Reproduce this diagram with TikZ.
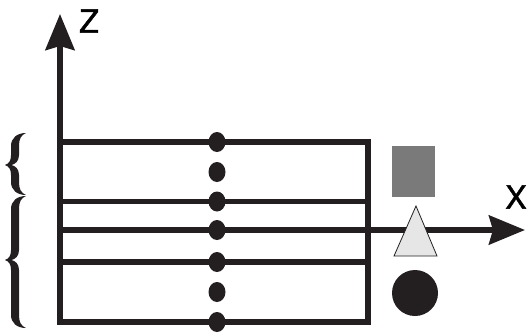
\documentclass[tikz,border=0pt]{standalone}
\usepackage{fontspec}
\setmainfont{TeX Gyre Heros}
\newfontfamily\labfont[FakeBold=1.2]{TeX Gyre Heros}
\usetikzlibrary{arrows.meta}
\definecolor{ink}{HTML}{231F20}
\definecolor{sqgray}{HTML}{7A7A7A}
\definecolor{trigray}{HTML}{E6E6E6}
% filled curly brace: #1 top y, #2 tip y, #3 bottom y
\newcommand\bracefill[3]{%
  \fill[ink] (26,#1-1) .. controls (17,#1-1) and (11,#1+4) .. (11,#1+12)
    -- (11,#2-10) .. controls (11,#2-4) and (9,#2-1.5) .. (5,#2)
    .. controls (9,#2+1.5) and (11,#2+4) .. (11,#2+10)
    -- (11,#3-12) .. controls (11,#3-4) and (17,#3+1) .. (26,#3+1)
    .. controls (21,#3-1) and (19,#3-5) .. (19,#3-12)
    -- (19,#2+10) .. controls (19,#2+4) and (15.5,#2+1) .. (11.5,#2)
    .. controls (15.5,#2-1) and (19,#2-4) .. (19,#2-10)
    -- (19,#1+12) .. controls (19,#1+5) and (21,#1+1) .. (26,#1-1) -- cycle;}
\begin{document}
\begin{tikzpicture}[x=1pt,y=-1pt,line width=5.5pt,
  layer/.style={draw=ink,line width=5.5pt},
  axis/.style={draw=ink,line width=5.5pt,-{Triangle[length=36pt,width=29pt,inset=4pt]}},
  lab/.style={font=\labfont\fontsize{32}{32}\selectfont,text=black,inner sep=0pt}]
\useasboundingbox (0,0) rectangle (528,333);
% coordinates
\coordinate (zb) at (60,322);
\coordinate (zt) at (60,14);
\coordinate (xl) at (60,230);
\coordinate (xr) at (525,230);
% layers
\draw[layer] (60,142) rectangle (368,322);
\draw[layer] (60,201.5) -- (368,201.5);
\draw[layer] (60,262) -- (368,262);
% axes
\draw[axis] (zb) -- (zt);
\draw[axis] (xl) -- (xr);
\node[lab] (zlab) at (89,21) {Z};
\node[lab] (xlab) at (516,197) {X};
% dots
\foreach \y in {142,172,201.5,230,262,292,322}
  \fill[ink] (217,\y) ellipse [x radius=8.5pt, y radius=10pt];
% symbols
\fill[sqgray] (392,146) rectangle (435,197);
\draw[ink,line width=0.8pt,fill=trigray] (416,206) -- (437,256) -- (394,256) -- cycle;
\fill[ink] (415,293) circle [radius=23pt];
% braces
\bracefill{134}{165}{194}
\bracefill{197}{260}{327}
\end{tikzpicture}
\end{document}
